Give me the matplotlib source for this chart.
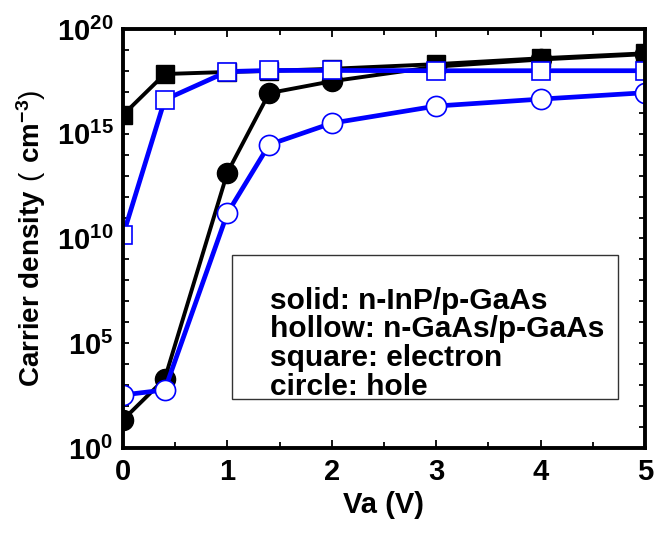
import numpy as np
import matplotlib
matplotlib.use('Agg')
import matplotlib.pyplot as plt
from matplotlib.ticker import FixedLocator, FixedFormatter
from matplotlib.patches import Rectangle

plt.rcParams['font.family'] = 'Liberation Sans'
plt.rcParams['font.weight'] = 'bold'
plt.rcParams['axes.labelweight'] = 'bold'
plt.rcParams['mathtext.fontset'] = 'custom'
plt.rcParams['mathtext.rm'] = 'Liberation Sans:weight=normal'
plt.rcParams['mathtext.bf'] = 'Liberation Sans:weight=bold'
plt.rcParams['mathtext.default'] = 'bf'

# applied voltage (V)
va = [0, 0.4, 1, 1.4, 2, 3, 4, 5]

# carrier densities (cm^-3)
# solid: n-InP/p-GaAs, hollow: n-GaAs/p-GaAs
inp_electron = [7.9e15, 7.1e17, 8.9e17, 1.0e18, 1.26e18, 2.1e18, 4.0e18, 6.9e18]
inp_hole = [22, 2.0e3, 1.4e13, 8.7e16, 3.2e17, 1.6e18, 3.5e18, 6.3e18]
gaas_electron = [1.4e10, 4.2e16, 9.3e17, 1.05e18, 1.05e18, 1.02e18, 1.02e18, 1.02e18]
gaas_hole = [340, 590, 1.6e11, 3.0e14, 3.2e15, 2.1e16, 4.5e16, 9.1e16]

x_ticks = [0, 1, 2, 3, 4, 5]
y_ticks = [1e0, 1e5, 1e10, 1e15, 1e20]
y_labels = [r'$10^{0}$', r'$10^{5}$', r'$10^{10}$', r'$10^{15}$', r'$10^{20}$']

legend_lines = ['solid: n-InP/p-GaAs',
                'hollow: n-GaAs/p-GaAs',
                'square: electron',
                'circle: hole']

blue = '#0000ff'

fig = plt.figure(figsize=(6.57, 5.38), dpi=100)
ax = fig.add_axes([0.1872, 0.1673, 0.7945, 0.7788])

# solid (black) first so the hollow markers sit on top
ax.plot(va, inp_electron, '-s', color='black', lw=2.8, ms=13,
        mfc='black', mec='black', mew=1)
ax.plot(va, inp_hole, '-o', color='black', lw=2.8, ms=14.5,
        mfc='black', mec='black', mew=1)
ax.plot(va, gaas_electron, '-s', color=blue, lw=3.4, ms=13,
        mfc='white', mec=blue, mew=1.2)
ax.plot(va, gaas_hole, '-o', color=blue, lw=3.4, ms=14.5,
        mfc='white', mec=blue, mew=1.2)

ax.set_yscale('log')
ax.set_xlim(0, 5)
ax.set_ylim(1, 1e20)

ax.xaxis.set_major_locator(FixedLocator(x_ticks))
ax.xaxis.set_minor_locator(FixedLocator(np.arange(0.5, 5, 1.0)))
ax.yaxis.set_major_locator(FixedLocator(y_ticks))
ax.yaxis.set_major_formatter(FixedFormatter(y_labels))
ax.yaxis.set_minor_locator(FixedLocator([10.0 ** k for k in range(21) if k % 5]))
ax.yaxis.set_minor_formatter(FixedFormatter([]))

for s in ax.spines.values():
    s.set_linewidth(2.8)

ax.tick_params(axis='both', which='both', direction='in', top=True, right=True,
               width=1.3, labelsize=21)
ax.tick_params(axis='x', which='major', length=6, pad=7)
ax.tick_params(axis='x', which='minor', length=4)
ax.tick_params(axis='y', which='both', length=4, pad=7)

ax.set_xlabel('Va (V)', fontsize=21, fontweight='bold', labelpad=4)
ax.set_ylabel(r'Carrier density$\mathrm{\ (\ }$cm$^{-3}$$\mathrm{)}$',
              fontsize=20, fontweight='bold', labelpad=6)

# text box with the marker key
ax.add_patch(Rectangle((0.209, 0.117), 0.739, 0.344, transform=ax.transAxes,
                       fill=False, edgecolor='#333333', lw=1.0, zorder=5))
for i, line in enumerate(legend_lines):
    ax.text(0.282, 0.352 - i * 0.069, line, transform=ax.transAxes,
            fontsize=21.5, fontweight='bold', va='center', ha='left', zorder=6)

fig.savefig('out.png', dpi=100)
